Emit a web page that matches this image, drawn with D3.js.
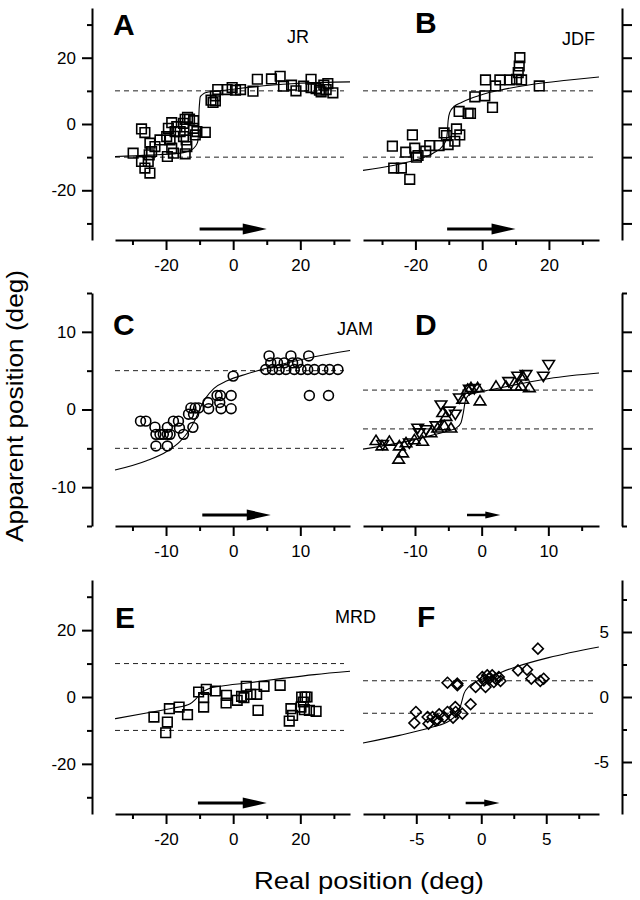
<!DOCTYPE html>
<html><head><meta charset="utf-8">
<script src="https://cdn.jsdelivr.net/npm/d3@7"></script>
<style>
body{margin:0;background:#fff}
text{font-family:"Liberation Sans",Arial,Helvetica,sans-serif;fill:#000}
</style>
</head><body>
<svg id="chart" width="640" height="900"></svg>
<script>
// ---------------- DATA ----------------
const ptsA = [[7.2,13.5],[11.4,13.6],[14.0,14.4],[15.0,11.4],[17.4,11.7],[18.7,10.0],[21.0,11.4],[23.2,13.5],[23.2,11.0],[24.7,10.7],[25.7,10.2],[27.0,11.7],[27.7,10.4],[28.2,12.2],[29.7,9.4],[26.2,9.7],[5.9,9.9],[-0.3,11.0],[0.7,10.2],[2.2,10.4],[-1.8,10.4],[-4.6,10.4],[-6.6,7.2],[-5.3,7.0],[-5.3,8.5],[-6.0,6.5],[-8.3,-2.5],[-10.8,-2.3],[-13.6,2.0],[-13.0,1.5],[-14.3,1.4],[-14.8,0.2],[-11.8,1.0],[-16.8,-0.8],[-17.3,-2.3],[-19.3,-1.3],[-18.3,0.4],[-15.8,-2.3],[-14.8,-3.8],[-14.0,-4.8],[-13.8,-6.8],[-14.3,-9.0],[-18.3,-7.3],[-17.8,-8.8],[-19.6,-9.8],[-18.8,-4.8],[-19.8,-3.8],[-27.3,-1.5],[-26.3,-2.6],[-24.8,-5.8],[-21.8,-4.8],[-23.3,-6.8],[-24.3,-8.3],[-25.0,-9.3],[-25.3,-11.3],[-26.3,-13.3],[-24.8,-14.8],[-29.8,-8.8],[-27.3,-11.3],[-11.3,-3.3],[-11.8,-1.3]];
const curveA = [[-35.2,-9.8],[-25,-9.4],[-15.8,-8.8],[-12.8,-8.0],[-11.3,-6.8],[-10.6,-5.5],[-10.3,-2],[-10.2,3],[-10.0,6.5],[-9.8,8.2],[-9.0,9.0],[-8.3,9.4],[-5,9.9],[0,10.5],[10,11.6],[20,12.3],[34.8,12.7]];

const ptsB = [[11.3,20],[11.1,17.5],[10.8,15.5],[10.3,13.5],[11.8,13.3],[8.3,13.3],[5.3,13.3],[4.0,11.5],[1.0,13.3],[17.1,11.5],[0.8,8.5],[-2.2,8.2],[3.1,5.0],[-6.9,3.8],[-4.2,3.2],[-3.5,3.2],[-7.7,-1.5],[-6.7,-3.3],[-8.2,-5.2],[-11.4,-2.7],[-10.7,-3.5],[-10.2,-6.2],[-12.9,-6.5],[-15.7,-6.5],[-16.9,-8.2],[-19.7,-10.0],[-19.2,-9.5],[-20.2,-7.3],[-22.9,-8.5],[-20.9,-3.3],[-26.9,-6.7],[-26.5,-13.3],[-24.2,-13.3],[-21.7,-16.7]];
const curveB = [[-35.7,-14],[-26.7,-12.5],[-19.7,-10.8],[-14.7,-8.8],[-11.7,-6.5],[-10.7,-4.5],[-10.4,-2],[-10.2,1],[-9.7,3.5],[-8.5,5.2],[-6.2,6.5],[-2.7,8],[0.3,9],[5.3,10.2],[15.3,12],[25.3,13.2],[35,14.2]];

const ptsC = [[-13.8,-1.5],[-13.0,-1.5],[-11.65,-2.27],[-11.5,-3.2],[-10.9,-3.2],[-10.4,-3.2],[-9.8,-3.2],[-9.4,-3.2],[-9.8,-2.3],[-11.5,-4.7],[-9.8,-4.7],[-8.9,-1.5],[-8.15,-1.5],[-8.0,-2.4],[-7.4,-3.2],[-6.0,-2.3],[-6.65,-0.6],[-6.3,0.2],[-5.65,0.2],[-5.15,0.2],[-5.9,-0.6],[-3.75,0.9],[-3.65,0.1],[-2.4,1.8],[-1.9,1.8],[-1.8,0.1],[-2.0,0.9],[-0.3,1.8],[-0.3,0.1],[0,4.3],[5.35,6.9],[8.6,6.9],[11.25,6.9],[5.6,6.0],[6.6,6.0],[7.6,6.0],[8.85,6.0],[9.6,6.0],[4.85,5.15],[5.85,5.15],[6.85,5.15],[7.85,5.15],[9.1,5.15],[10.1,5.15],[11.1,5.15],[12.1,5.15],[13.35,5.15],[14.35,5.15],[15.6,5.15],[11.35,1.8],[14.2,1.8]];
const curveC = [[-17.6,-7.8],[-12.9,-6.6],[-9.9,-5.4],[-7.9,-4.1],[-6.65,-2.8],[-5.65,-1.3],[-4.9,0.2],[-4.15,1.4],[-2.9,2.7],[-0.9,3.7],[2.1,4.6],[7.1,5.8],[12.1,6.8],[17.4,7.6]];

const ptsDup = [[-15.85,-4.0],[-14.95,-4.7],[-13.85,-4.1],[-12.45,-6.4],[-11.85,-5.6],[-12.35,-4.7],[-11.35,-4.3],[-10.1,-3.9],[-8.85,-4.1],[-7.6,-3.0],[-6.6,-2.4],[-5.6,-2.1],[-4.6,-2.4],[-5.35,-0.9],[-5.85,-0.4],[-2.85,1.3],[-2.1,2.6],[-1.6,2.8],[-0.6,2.8],[-0.25,1.1],[2.15,3.0],[3.65,3.0],[5.15,3.0],[6.15,4.3],[7.15,2.8],[5.9,3.0]];
const ptsDdown = [[10.05,5.8],[9.25,4.3],[6.65,4.5],[5.4,4.3],[4.05,3.6],[-6.1,0.6],[-4.85,-0.2],[-3.95,-0.6],[-3.35,1.5],[-1.85,2.6],[-1.1,2.7],[-9.6,-2.4],[-8.35,-2.6],[-6.85,-2.1],[-10.85,-4.3],[-14.85,-4.5],[-9.35,-3.0]];
const curveD = [[-17.8,-5.1],[-12.35,-4.3],[-7.35,-3.3],[-4.85,-2.7],[-3.85,-2.4],[-3.1,-1.7],[-2.75,-0.4],[-2.45,1.1],[-1.85,1.9],[-0.6,2.2],[1.15,2.5],[5.15,3.2],[10.15,4.0],[17.6,4.7]];

const ptsE = [[-23.6,-6.0],[-19.6,-7.5],[-20.1,-10.7],[-19.0,-3.5],[-16.1,-3.0],[-13.6,-5.3],[-10.3,1.5],[-8.8,-0.2],[-8.8,-3.0],[-8.0,2.3],[-5.3,1.8],[-2.0,0.5],[-2.1,-1.8],[1.2,-1.0],[2.5,0.2],[3.2,-0.2],[3.9,3.2],[5.2,0.8],[7.0,0.8],[7.4,-4.0],[9.2,3.2],[14.0,3.5],[17.2,-3.5],[17.7,-5.5],[16.7,-7.2],[20.4,0],[21.4,0],[20.9,-1.5],[20.2,-3.0],[21.2,-3.8],[22.7,-4.0],[24.7,-4.3],[22.0,0]];
const curveE = [[-35.2,-6.5],[-25.8,-4.8],[-17.8,-3.3],[-12.8,-2],[-11.3,-0.8],[-9.8,1],[-7.3,2.5],[-3.8,3.2],[4.2,4.2],[14.2,5.5],[24.2,6.7],[34.8,7.7]];

const ptsF = [[4.36,3.72],[2.83,2.05],[3.52,2.1],[3.85,1.41],[4.54,1.23],[4.8,1.41],[-2.6,1.1],[-1.84,0.9],[-1.84,1.03],[-0.43,0.77],[0.08,1.54],[0.33,0.77],[0.59,1.41],[0.84,1.67],[1.1,1.41],[1.35,1.54],[1.48,1.23],[0.46,1.67],[0.2,1.28],[0.97,1.15],[-0.82,-0.56],[-1.45,-1.28],[-2.0,-0.77],[-1.97,-1.15],[-2.17,-1.59],[-2.6,-1.15],[-2.86,-1.54],[-3.24,-1.33],[-3.37,-1.74],[-3.75,-1.54],[-4.06,-2.05],[-4.13,-1.54],[-5.03,-1.15],[-5.15,-2.0],[-3.5,-1.8]];
const curveF = [[-9.1,-3.54],[-6.3,-2.95],[-3.75,-2.31],[-2.47,-1.85],[-1.91,-1.33],[-1.58,-0.64],[-1.33,0.26],[-0.94,0.82],[-0.31,1.23],[0.59,1.54],[2.63,2.31],[5.18,3.03],[9.05,3.85]];

// motion range (arrow) and matching dashed reference levels
const arrowA = [-10, 10],   dashA = [-10, 10];
const arrowB = [-10.5, 10], dashB = [-10, 10];
const arrowC = [-4.6, 5.6], dashC = [-5, 5];
const arrowD = [-2.2, 2.8], dashD = [-2.5, 2.5];
const arrowE = [-10.5, 10], dashE = [-10, 10];
const arrowF = [-1.2, 1.4], dashF = [-1.25, 1.25];

const subjects = {A:"JR", B:"JDF", C:"JAM", D:"", E:"MRD", F:""};

// tick values
const ticks35Major = [-20, 0, 20], ticks35Minor = [-30, -10, 10, 30];
const ticks15Major = [-10, 0, 10], ticks15Minor = [-15, -5, 5, 15];
const ticks9Major = [-5, 0, 5],   ticks9Minor = [-7.5, -2.5, 2.5, 7.5];
const ticksBRight = [-30, -20, -10, 0, 10, 20, 30];
const ticksDRight = [-10, -5, 0, 5, 10], ticksDEnds = [-15, 15];

// ---------------- LAYOUT ----------------
const svg = d3.select("#chart");
const colRange = {L:[115, 350], R:[363, 599]};
const rowRange = [[240, 8], [526, 293], [814, 580]];
const leftAxisX = 92, rightAxisX = 622;

const panels = [
  {id:"A", col:"L", row:0, xd:[-35.2,34.8], yd:[-35,35], series:[{pts:ptsA, shape:"square"}], curve:curveA, dash:dashA, arrow:arrowA,
   xMaj:ticks35Major, xMin:ticks35Minor, yaxis:"left", yMaj:ticks35Major, yMin:ticks35Minor, letterPos:[113,35], subjPos:[287,43]},
  {id:"B", col:"R", row:0, xd:[-35.7,35], yd:[-35,35], series:[{pts:ptsB, shape:"square"}], curve:curveB, dash:dashB, arrow:arrowB,
   xMaj:ticks35Major, xMin:ticks35Minor, yaxis:"rightPlain", yMaj:ticksBRight, yMin:[], letterPos:[415,33], subjPos:[562,45]},
  {id:"C", col:"L", row:1, xd:[-17.6,17.4], yd:[-15,15], series:[{pts:ptsC, shape:"circle"}], curve:curveC, dash:dashC, arrow:arrowC,
   xMaj:ticks15Major, xMin:ticks15Minor, yaxis:"left", yMaj:ticks15Major, yMin:ticks15Minor, letterPos:[113,335], subjPos:[337,335]},
  {id:"D", col:"R", row:1, xd:[-17.8,17.6], yd:[-15,15], series:[{pts:ptsDup, shape:"tri"},{pts:ptsDdown, shape:"trid"}], curve:curveD, dash:dashD, arrow:arrowD,
   xMaj:ticks15Major, xMin:ticks15Minor, yaxis:"rightPlain", yMaj:ticksDRight, yMin:ticksDEnds, letterPos:[415,335], subjPos:null},
  {id:"E", col:"L", row:2, xd:[-35.2,34.8], yd:[-35,35], series:[{pts:ptsE, shape:"square"}], curve:curveE, dash:dashE, arrow:arrowE,
   xMaj:ticks35Major, xMin:ticks35Minor, yaxis:"left", yMaj:ticks35Major, yMin:ticks35Minor, letterPos:[115,628], subjPos:[335,623]},
  {id:"F", col:"R", row:2, xd:[-9.1,9.06], yd:[-9,9], series:[{pts:ptsF, shape:"diamond"}], curve:curveF, dash:dashF, arrow:arrowF,
   xMaj:ticks9Major, xMin:ticks9Minor, yaxis:"rightLabeled", yMaj:ticks9Major, yMin:ticks9Minor, letterPos:[417,627], subjPos:null}
];

const shapes = {
  square: "M-4.8,-4.8H4.8V4.8H-4.8Z",
  circle: d3.symbol(d3.symbolCircle, 76)(),
  tri: "M0,-5.4L5.8,3.9H-5.8Z",
  trid: "M0,5.4L5.8,-3.9H-5.8Z",
  diamond: "M0,-5.4L5.4,0L0,5.4L-5.4,0Z"
};

const fmt = d => String(d);

function styleAxis(g, labelSize){
  g.attr("font-family", null).attr("font-size", null);
  g.selectAll("path.domain").attr("stroke","#000").attr("stroke-width",2);
  g.selectAll(".tick line").attr("stroke","#000").attr("stroke-width",2);
  g.selectAll(".tick text").attr("font-size", labelSize).attr("fill","#000");
}

panels.forEach(p => {
  const x = d3.scaleLinear().domain(p.xd).range(colRange[p.col]);
  const y = d3.scaleLinear().domain(p.yd).range(rowRange[p.row]);
  const g = svg.append("g").attr("class","panel-"+p.id);
  const y0 = rowRange[p.row][0];

  // x axis (major with labels, minor short)
  const gx = g.append("g").attr("transform",`translate(0,${y0})`)
    .call(d3.axisBottom(x).tickValues(p.xMaj).tickSize(10).tickSizeOuter(0).tickPadding(9).tickFormat(fmt));
  styleAxis(gx, 17);
  const gxm = g.append("g").attr("transform",`translate(0,${y0})`)
    .call(d3.axisBottom(x).tickValues(p.xMin).tickSize(5).tickSizeOuter(0).tickFormat(""));
  gxm.select(".domain").remove(); styleAxis(gxm, 17);

  // y axis
  if (p.yaxis === "left") {
    const gy = g.append("g").attr("transform",`translate(${leftAxisX},0)`)
      .call(d3.axisLeft(y).tickValues(p.yMaj).tickSize(10).tickSizeOuter(0).tickPadding(6).tickFormat(fmt));
    styleAxis(gy, 17);
    const gym = g.append("g").attr("transform",`translate(${leftAxisX},0)`)
      .call(d3.axisLeft(y).tickValues(p.yMin).tickSize(5).tickSizeOuter(0).tickFormat(""));
    gym.select(".domain").remove(); styleAxis(gym, 17);
  } else if (p.yaxis === "rightPlain") {
    const gy = g.append("g").attr("transform",`translate(${rightAxisX},0)`)
      .call(d3.axisRight(y).tickValues(p.yMaj).tickSize(10).tickSizeOuter(0).tickFormat(""));
    styleAxis(gy, 17);
    if (p.yMin.length) {
      const gym = g.append("g").attr("transform",`translate(${rightAxisX},0)`)
        .call(d3.axisRight(y).tickValues(p.yMin).tickSize(5).tickSizeOuter(0).tickFormat(""));
      gym.select(".domain").remove(); styleAxis(gym, 17);
    }
  } else {
    // right axis, ticks outward, labels inside the plot
    const gy = g.append("g").attr("transform",`translate(${rightAxisX},0)`)
      .call(d3.axisLeft(y).tickValues(p.yMaj).tickSize(-10).tickSizeOuter(0).tickPadding(13).tickFormat(fmt));
    styleAxis(gy, 17);
    const gym = g.append("g").attr("transform",`translate(${rightAxisX},0)`)
      .call(d3.axisRight(y).tickValues(p.yMin).tickSize(5).tickSizeOuter(0).tickFormat(""));
    gym.select(".domain").remove(); styleAxis(gym, 17);
  }

  // dashed reference lines
  const xr = colRange[p.col];
  g.selectAll("line.dash").data(p.dash).join("line").attr("class","dash")
    .attr("x1", xr[0]).attr("x2", xr[1]-6)
    .attr("y1", d => y(d)).attr("y2", d => y(d))
    .attr("stroke","#222").attr("stroke-width",1).attr("stroke-dasharray","5,4");

  // fitted curve
  g.append("path").datum(p.curve)
    .attr("d", d3.line().x(d => x(d[0])).y(d => y(d[1])).curve(d3.curveMonotoneX))
    .attr("fill","none").attr("stroke","#000").attr("stroke-width",1.1);

  // markers
  p.series.forEach(s => {
    g.append("g").selectAll("path").data(s.pts).join("path")
      .attr("transform", d => `translate(${x(d[0])},${y(d[1])})`)
      .attr("d", shapes[s.shape])
      .attr("fill","none").attr("stroke","#000").attr("stroke-width",1.6);
  });

  // motion arrow
  const ax0 = x(p.arrow[0]), ax1 = x(p.arrow[1]);
  const len = ax1 - ax0;
  const head = Math.min(24, len * 0.45), hh = head * 0.23;
  const ay = y0 - 11;
  g.append("line").attr("x1", ax0).attr("x2", ax1 - head + 1).attr("y1", ay).attr("y2", ay)
    .attr("stroke","#000").attr("stroke-width", len > 50 ? 3 : 2.5);
  g.append("path").attr("d", `M${ax1},${ay}L${ax1-head},${ay-hh}L${ax1-head},${ay+hh}Z`).attr("fill","#000");

  // panel letter and subject label
  g.append("text").attr("x", p.letterPos[0]).attr("y", p.letterPos[1])
    .attr("font-size", 30).attr("font-weight","bold").text(p.id);
  if (p.subjPos && subjects[p.id]) {
    g.append("text").attr("x", p.subjPos[0]).attr("y", p.subjPos[1])
      .attr("font-size", 18).text(subjects[p.id]);
  }
});

// axis titles
svg.append("text").attr("transform","translate(23,406) rotate(-90)")
  .attr("text-anchor","middle").attr("font-size",24)
  .attr("textLength",272).attr("lengthAdjust","spacingAndGlyphs")
  .text("Apparent position (deg)");
svg.append("text").attr("x",369).attr("y",889)
  .attr("text-anchor","middle").attr("font-size",24)
  .attr("textLength",230).attr("lengthAdjust","spacingAndGlyphs")
  .text("Real position (deg)");
</script>
</body></html>
